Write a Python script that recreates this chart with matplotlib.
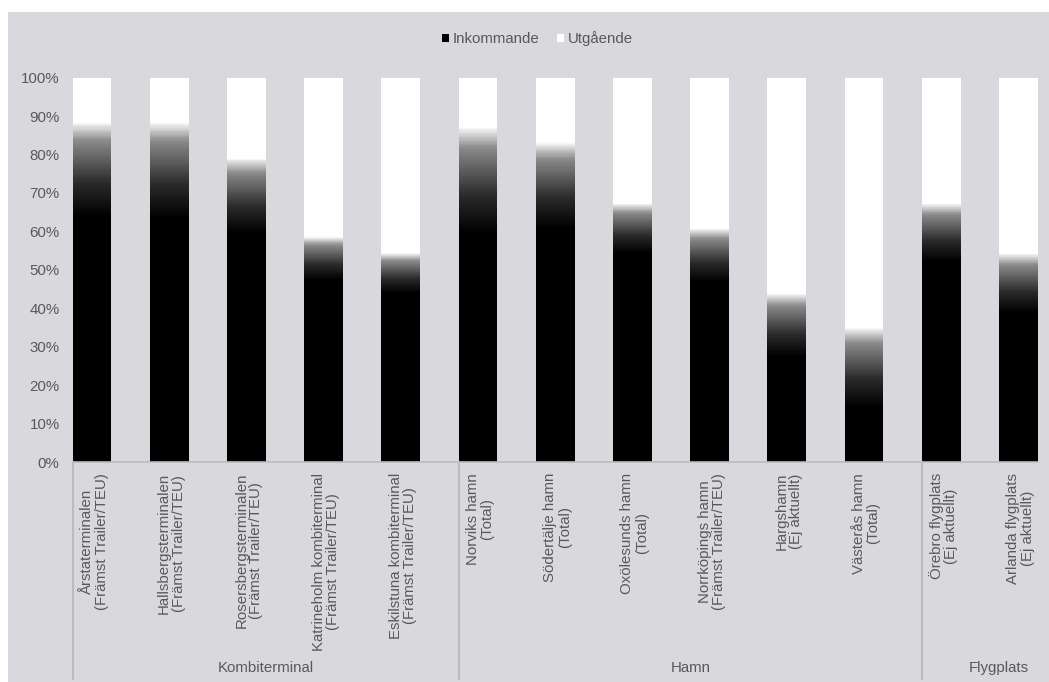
import numpy as np
import matplotlib.pyplot as plt
from matplotlib.colors import LinearSegmentedColormap
from matplotlib.patches import Patch, Rectangle
from matplotlib.lines import Line2D
from matplotlib.ticker import PercentFormatter

plt.rcParams['font.family'] = ['Liberation Sans', 'DejaVu Sans']

# category labels (two lines each, as in the chart)
names = ["Årstaterminalen\n(Främst Trailer/TEU)",
         "Hallsbergsterminalen\n(Främst Trailer/TEU)",
         "Rosersbergsterminalen\n(Främst Trailer/TEU)",
         "Katrineholm kombiterminal\n(Främst Trailer/TEU)",
         "Eskilstuna kombiterminal\n(Främst Trailer/TEU)",
         "Norviks hamn\n(Total)",
         "Södertälje hamn\n(Total)",
         "Oxölesunds hamn\n(Total)",
         "Norrköpings hamn\n(Främst Trailer/TEU)",
         "Hargshamn\n(Ej aktuellt)",
         "Västerås hamn\n(Total)",
         "Örebro flygplats\n(Ej aktuellt)",
         "Arlanda flygplats\n(Ej aktuellt)"]

groups = ["Kombiterminal", "Hamn", "Flygplats"]
group_sizes = [5, 6, 2]

# share of incoming (%), read at the top of the dark part
inkommande = [88.6, 88.6, 79.2, 58.7, 54.4, 87.3, 83.4, 67.4, 60.9, 44.0, 35.2, 67.4, 54.4]
utgaende = [100 - v for v in inkommande]
# level where the fill is fully black (the fill fades above it)
solid_black = [63.9, 63.5, 59.6, 47.4, 44.0, 59.6, 60.9, 54.4, 47.0, 27.4, 14.4, 52.2, 38.8]

bg = '#d9d9dd'
txt = '#595959'
line_col = '#bcbcc0'

fig = plt.figure(figsize=(10.49, 6.82), dpi=100)
fig.patch.set_facecolor('white')
fig.patches.append(Rectangle((8 / 1049, 0), 1, 1 - 12 / 682, transform=fig.transFigure,
                             facecolor=bg, edgecolor='none', zorder=-10))

ax = fig.add_axes([72.7 / 1049, (682 - 462) / 682, (1037.7 - 72.7) / 1049, (462 - 77.7) / 682])
ax.set_facecolor(bg)

x = np.arange(len(names))
w = 0.505
ax.bar(x, solid_black, w, color='black', linewidth=0, zorder=2)
ax.bar(x, utgaende, w, bottom=inkommande, color='white', linewidth=0, zorder=2)

# the incoming bar fades from black to white towards its top
cmap = LinearSegmentedColormap.from_list('fade', [(0, '#000000'), (0.35, '#2a2a2a'),
                                                  (0.8, '#8a8a8a'), (0.92, '#d0d0d0'),
                                                  (1, '#ffffff')])
n_steps = 80
for xi, lo, hi in zip(x, solid_black, inkommande):
    yy = np.linspace(lo, hi, n_steps + 1)
    t = (np.arange(n_steps) + 0.5) / n_steps
    ax.bar(np.full(n_steps, xi), np.diff(yy), w, bottom=yy[:-1], color=cmap(t),
           linewidth=0, zorder=2)

ax.set_xlim(-0.25, len(names) - 0.75)
ax.set_ylim(0, 100)
ax.set_yticks(np.arange(0, 101, 10))
ax.yaxis.set_major_formatter(PercentFormatter(decimals=0))
ax.tick_params(axis='y', length=0, pad=9.5, labelsize=10.8, labelcolor=txt)
ax.set_xticks([])
for s in ['top', 'right', 'left']:
    ax.spines[s].set_visible(False)
ax.spines['bottom'].set_color(line_col)
ax.spines['bottom'].set_linewidth(1.2)

# category labels
trans = ax.get_xaxis_transform()
for xi, n in zip(x, names):
    ax.text(xi + 0.03, -0.028, n, transform=trans, rotation=90, ha='center', va='top',
            multialignment='center', fontsize=10.8, color=txt, linespacing=1.05)

# group separators and labels
edges = np.concatenate([[0], np.cumsum(group_sizes)]) - 0.25
for e in edges:
    ax.add_line(Line2D([e, e], [0, -0.565], transform=trans, color=line_col, lw=1.5,
                       clip_on=False))
for g, a, b in zip(groups, edges[:-1], edges[1:]):
    ax.text((a + b) / 2, -0.536, g, transform=trans, ha='center', va='center',
            fontsize=10.8, color=txt)

handles = [Patch(facecolor='black', edgecolor='none', label='Inkommande'),
           Patch(facecolor='white', edgecolor='none', label='Utgående')]
leg = fig.legend(handles=handles, loc='center', bbox_to_anchor=(0.512, 1 - 39 / 682),
                 ncol=2, frameon=False, fontsize=10.8, handlelength=0.5, handleheight=0.5,
                 handletextpad=0.2, columnspacing=1.2, labelcolor=txt)

fig.savefig('out.png', dpi=100, facecolor=fig.get_facecolor())
